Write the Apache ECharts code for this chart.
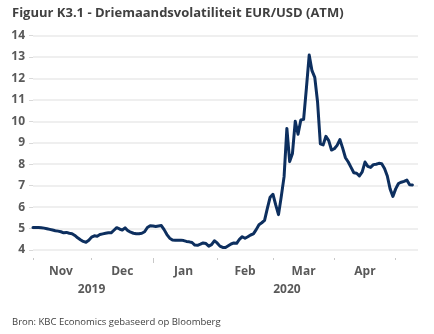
<!DOCTYPE html>
<html>
<head>
<meta charset="utf-8">
<script src="https://cdn.jsdelivr.net/npm/echarts@6/dist/echarts.min.js"></script>
<style>
html,body{margin:0;padding:0;background:#fff;}
#chart{width:434px;height:334px;}
</style>
</head>
<body>
<div id="chart"></div>
<script>
// Month names and number of business days shown per month (May padded with two empty days)
var monthNames = ['Nov', 'Dec', 'Jan', 'Feb', 'Mar', 'Apr', 'May'];
var monthDays = [21, 22, 23, 20, 22, 22, 9];
var years = ['2019', '2020'];
var yearStartMonth = [0, 2];

// Three-month EUR/USD ATM implied volatility, per business day
var volNov = [5.05, 5.05, 5.05, 5.04, 5.02, 4.99, 4.96, 4.93, 4.90, 4.88, 4.85, 4.80, 4.82, 4.78, 4.76, 4.68, 4.57, 4.48, 4.40, 4.36, 4.45];
var volDec = [4.60, 4.66, 4.64, 4.72, 4.75, 4.78, 4.80, 4.80, 4.92, 5.04, 4.98, 4.93, 5.03, 4.90, 4.83, 4.78, 4.76, 4.76, 4.78, 4.85, 5.05, 5.13];
var volJan = [5.12, 5.10, 5.12, 5.14, 4.95, 4.72, 4.55, 4.47, 4.45, 4.45, 4.46, 4.44, 4.40, 4.38, 4.35, 4.23, 4.22, 4.27, 4.33, 4.30, 4.18, 4.25, 4.43];
var volFeb = [4.33, 4.18, 4.12, 4.12, 4.20, 4.28, 4.33, 4.31, 4.50, 4.62, 4.55, 4.62, 4.70, 4.75, 4.95, 5.18, 5.27, 5.38, 5.94, 6.46];
var volMar = [6.60, 6.10, 5.65, 6.50, 7.42, 9.67, 8.12, 8.50, 10.00, 9.40, 10.06, 10.09, 11.55, 13.09, 12.36, 12.05, 10.90, 8.95, 8.90, 9.30, 9.10, 8.66];
var volApr = [8.72, 8.88, 9.15, 8.75, 8.30, 8.10, 7.85, 7.60, 7.58, 7.45, 7.64, 8.10, 7.90, 7.85, 7.98, 8.00, 8.04, 8.02, 7.80, 7.45, 6.85, 6.50];
var volMay = [6.85, 7.10, 7.16, 7.20, 7.26, 7.04, 7.03];

var yMin = 4, yMax = 14, yStep = 1;

var values = [].concat(volNov, volDec, volJan, volFeb, volMar, volApr, volMay);

var categories = [];
var monthStart = [];
var monthLabelAt = {};
var idx = 0;
for (var m = 0; m < monthNames.length; m++) {
  monthStart.push(idx);
  for (var d = 0; d < monthDays[m]; d++) {
    categories.push(monthNames[m] + ' ' + (d + 1));
  }
  if (m < monthNames.length - 1) {
    monthLabelAt[Math.ceil(idx + (monthDays[m] - 1) / 2)] = monthNames[m];
  }
  idx += monthDays[m];
}
var total = categories.length;
var isMonthStart = {};
monthStart.forEach(function (s) { isMonthStart[s] = true; });

var yearLabelAt = {};
var yearTickAt = {};
for (var y = 0; y < years.length; y++) {
  var s0 = monthStart[yearStartMonth[y]];
  var e0 = (y + 1 < years.length) ? monthStart[yearStartMonth[y + 1]] - 1 : total - 1;
  yearLabelAt[Math.ceil((s0 + e0) / 2)] = years[y];
  if (y > 0) yearTickAt[s0] = true;
}

var font = '"Open Sans", "Noto Sans", sans-serif';
var chart = echarts.init(document.getElementById('chart'), null, {renderer: 'canvas'});
chart.setOption({
  animation: false,
  backgroundColor: '#ffffff',
  title: [{
    text: 'Figuur K3.1 - Driemaandsvolatiliteit EUR/USD (ATM)',
    left: 7, top: 2,
    textStyle: {fontFamily: font, fontSize: 13, fontWeight: 'bold', color: '#404040'}
  }, {
    text: 'Bron: KBC Economics gebaseerd op Bloomberg',
    left: 7, top: 312,
    textStyle: {fontFamily: font, fontSize: 9.5, fontWeight: 'normal', color: '#404040'}
  }],
  grid: {left: 33, right: 16, top: 35.5, bottom: 84, containLabel: false},
  xAxis: [{
    type: 'category',
    data: categories,
    boundaryGap: false,
    position: 'bottom',
    offset: 8,
    axisLine: {show: false},
    axisTick: {
      show: true, length: 2,
      interval: function (i) { return !!isMonthStart[i]; },
      lineStyle: {color: '#c8c8c8', width: 1}
    },
    axisLabel: {
      show: true, margin: 8,
      interval: function (i) { return monthLabelAt[i] !== undefined; },
      formatter: function (v, i) { return monthLabelAt[i] || ''; },
      fontFamily: font, fontSize: 12, fontWeight: 'bold', color: '#595959'
    },
    splitLine: {show: false}
  }, {
    type: 'category',
    data: categories,
    boundaryGap: false,
    position: 'bottom',
    offset: 8,
    axisLine: {show: false},
    axisTick: {
      show: true, length: 5,
      interval: function (i) { return !!yearTickAt[i]; },
      lineStyle: {color: '#c8c8c8', width: 1}
    },
    axisLabel: {
      show: true, margin: 26,
      interval: function (i) { return yearLabelAt[i] !== undefined; },
      formatter: function (v, i) { return yearLabelAt[i] || ''; },
      fontFamily: font, fontSize: 12, fontWeight: 'bold', color: '#595959'
    },
    splitLine: {show: false}
  }],
  yAxis: {
    type: 'value',
    min: yMin, max: yMax, interval: yStep,
    axisLine: {show: false},
    axisTick: {show: true, length: 4, lineStyle: {color: '#d9d9d9'}},
    axisLabel: {margin: 8, fontFamily: font, fontSize: 12, fontWeight: 'bold', color: '#595959'},
    splitLine: {show: true, lineStyle: {color: '#efefef', width: 2}}
  },
  series: [{
    type: 'line',
    data: values,
    xAxisIndex: 0,
    showSymbol: false,
    symbol: 'none',
    lineStyle: {color: '#0d2f5f', width: 3, join: 'round', cap: 'round'},
    z: 5
  }]
});
</script>
</body>
</html>
